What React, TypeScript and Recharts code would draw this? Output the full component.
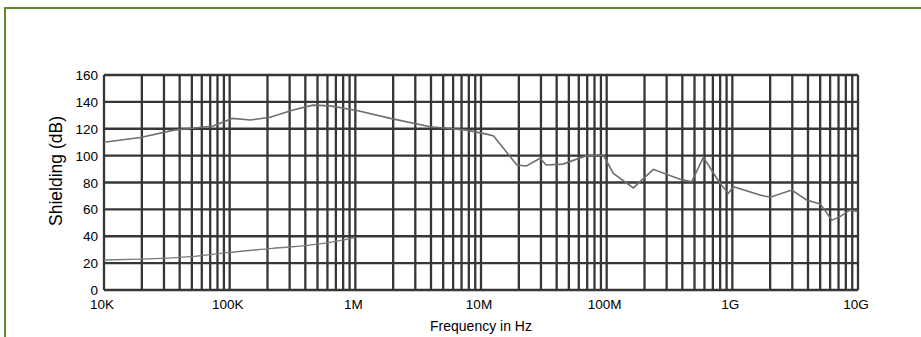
import { LineChart, Line, XAxis, YAxis, CartesianGrid, ReferenceLine } from "recharts";

// upper curve (shield), frequency in Hz / shielding in dB
const UPPER_FREQ = [
  1e4, 1.95e4, 3.6e4, 5.5e4, 7.4e4, 1.05e5, 1.46e5, 2.1e5, 3.2e5, 4.6e5, 6.3e5, 1.05e6,
  1.9e6, 3.95e6, 7.7e6, 1.11e7, 1.26e7, 1.93e7, 2.3e7, 2.95e7, 3.3e7, 4.5e7, 6.9e7, 9.4e7,
  1.13e8, 1.63e8, 2.35e8, 3.83e8, 4.75e8, 5.88e8, 7.98e8, 9.3e8, 1.02e9, 1.66e9, 2e9,
  2.97e9, 3.9e9, 5e9, 6.2e9, 7.2e9, 8.6e9, 1e10,
];
const UPPER_DB = [
  110, 113.5, 119, 120.8, 122, 127.7, 126.5, 128.5, 134, 137.6, 137, 133.4,
  127.7, 121.5, 119, 116, 114.6, 93, 92.3, 98, 93, 93.7, 100, 100.4,
  86.8, 76, 89.8, 82.4, 80.6, 98.7, 79.4, 72, 76.9, 70.7, 69,
  74.4, 67, 64, 52, 54.6, 59.5, 58.3,
];

// lower curve, only up to 1 MHz
const LOWER_FREQ = [1e4, 1.95e4, 4.9e4, 9.5e4, 2.2e5, 5.6e5, 1e6];
const LOWER_DB = [22.3, 23, 24.8, 27.8, 31, 34.7, 39];

const X_TICKS = [1e4, 1e5, 1e6, 1e7, 1e8, 1e9, 1e10];
const X_LABELS = ["10K", "100K", "1M", "10M", "100M", "1G", "10G"];
const Y_TICKS = [0, 20, 40, 60, 80, 100, 120, 140, 160];
const DECADE_STEPS = [1, 2, 3, 4, 5, 6, 7, 8, 9];

const upperData = UPPER_FREQ.map((f, i) => ({ f, db: UPPER_DB[i] }));
const lowerData = LOWER_FREQ.map((f, i) => ({ f, db: LOWER_DB[i] }));
const gridFreqs = X_TICKS.flatMap((d, i) =>
  i === X_TICKS.length - 1 ? [d] : DECADE_STEPS.map((s) => d * s)
);

const GRID = "#363636";
const FONT = "'Liberation Sans', Arial, sans-serif";

function XTick(props: any) {
  const { x, y, payload } = props;
  const idx = X_TICKS.indexOf(payload.value);
  return (
    <text x={x - 2} y={y + 19} textAnchor="middle" fontSize={13.5} fill="#000" fontFamily={FONT}>
      {X_LABELS[idx]}
    </text>
  );
}

function YTick(props: any) {
  const { x, y, payload } = props;
  return (
    <text x={x - 6} y={y + 5} textAnchor="end" fontSize={13.5} fill="#000" fontFamily={FONT}>
      {payload.value}
    </text>
  );
}

export default function App() {
  return (
    <div
      style={{
        position: "fixed",
        left: 0,
        top: 0,
        width: 921,
        height: 337,
        background: "#fff",
        overflow: "hidden",
      }}
    >
      <div
        style={{
          position: "absolute",
          left: 4,
          top: 7,
          width: 930,
          height: 340,
          borderLeft: "2px solid #5e8c2c",
          borderTop: "2px solid #5e8c2c",
        }}
      />
      <LineChart
        width={921}
        height={337}
        margin={{ top: 75, right: 63, left: 0, bottom: 17 }}
        style={{ position: "absolute", left: 0, top: 0 }}
      >
        <CartesianGrid vertical={false} stroke={GRID} strokeWidth={2.3} />
        {gridFreqs.map((f) => (
          <ReferenceLine key={f} x={f} stroke={GRID} strokeWidth={2.3} ifOverflow="extendDomain" />
        ))}
        <XAxis
          dataKey="f"
          type="number"
          scale="log"
          domain={[1e4, 1e10]}
          ticks={X_TICKS}
          allowDataOverflow
          axisLine={false}
          tickLine={false}
          tickSize={0}
          tickMargin={0}
          height={30}
          tick={<XTick />}
          interval={0}
          label={{
            content: (p: any) => {
              const vb = p.viewBox;
              return (
                <text
                  x={vb.x + vb.width / 2}
                  y={331}
                  textAnchor="middle"
                  fontSize={14}
                  fill="#000"
                  fontFamily={FONT}
                >
                  Frequency in Hz
                </text>
              );
            },
          }}
        />
        <YAxis
          type="number"
          domain={[0, 160]}
          ticks={Y_TICKS}
          width={104}
          axisLine={false}
          tickLine={false}
          tickSize={0}
          tickMargin={0}
          interval={0}
          tick={<YTick />}
          label={{
            content: () => (
              <text
                x={62}
                y={171}
                textAnchor="middle"
                fontSize={17.5}
                fill="#000"
                fontFamily={FONT}
                transform="rotate(-90 62 171)"
              >
                Shielding (dB)
              </text>
            ),
          }}
        />
        <Line
          data={upperData}
          dataKey="db"
          type="linear"
          stroke="#6e6e6e"
          strokeWidth={1.6}
          dot={false}
          isAnimationActive={false}
        />
        <Line
          data={lowerData}
          dataKey="db"
          type="monotone"
          stroke="#7a7a7a"
          strokeWidth={1.4}
          dot={false}
          isAnimationActive={false}
        />
      </LineChart>
    </div>
  );
}
